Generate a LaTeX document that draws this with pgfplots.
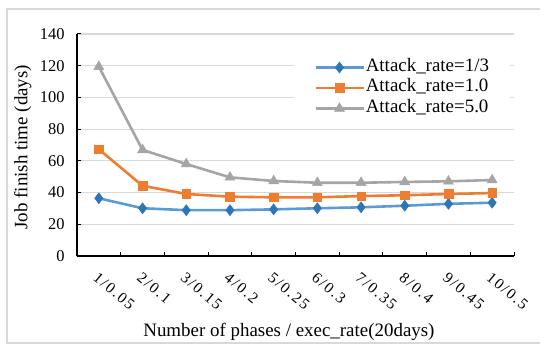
\documentclass[border=0pt]{standalone}
\usepackage{fontspec}
\setmainfont{Liberation Serif}
\newfontfamily\spacedfont[LetterSpace=12]{Liberation Serif}
\usepackage{pgfplots}
\pgfplotsset{compat=1.18}
\definecolor{cblue}{HTML}{5B9BD5}
\definecolor{cbluemark}{HTML}{2E75B6}
\definecolor{corange}{HTML}{ED7D31}
\definecolor{cgray}{HTML}{A5A5A5}
\definecolor{gridc}{HTML}{D9D9D9}
\begin{document}
\begin{tikzpicture}
\useasboundingbox (0,0) rectangle (540bp,346bp);
\draw[gridc, line width=1.2bp] (541bp,337bp) -- (7bp,337bp) -- (7bp,3bp) -- (541bp,3bp);
\begin{axis}[
  at={(77bp,90bp)}, anchor=south west,
  scale only axis, width=437bp, height=222bp,
  xmin=0.5, xmax=10.5, ymin=0, ymax=140,
  ytick={0,20,...,140},
  xtick={1,...,10},
  xticklabels={1/0.05,2/0.1,3/0.15,4/0.2,5/0.25,6/0.3,7/0.35,8/0.4,9/0.45,10/0.5},
  minor xtick={0.5,1.5,...,10.5},
  major x tick style={draw=none},
  tick align=inside,
  major tick length=4bp, minor tick length=4bp,
  axis x line*=bottom, axis y line*=left,
  axis line style={black, line width=1.2bp},
  tick style={black, line width=1bp},
  ymajorgrids, grid style={gridc, line width=1.2bp},
  /pgf/number format/assume math mode=true,
  yticklabel style={font=\fontsize{16.5}{18}\selectfont, xshift=-9bp},
  xticklabel style={font=\fontsize{15.5}{18}\spacedfont, yshift=-14bp, rotate=-40, anchor=north west, inner sep=1bp},
  xlabel={Number of phases / exec\_rate(20days)},
  xlabel style={font=\fontsize{19}{22}\selectfont, at={(axis description cs:0.485,0)}, anchor=base, yshift=-80bp},
  ylabel={Job finish time (days)},
  ylabel style={font=\fontsize{19}{22}\selectfont, at={(axis description cs:-0.124,0.49)}, anchor=center},
  legend style={draw=none, fill=white, at={(axis description cs:0.4966,0.914)}, anchor=north west,
    font=\fontsize{19}{20}\selectfont, row sep=0bp, inner xsep=20bp, inner ysep=4bp,
    nodes={inner sep=1bp, text height=13bp, text depth=5.5bp},
    /tikz/every even column/.append style={column sep=2bp}},
  legend cell align=left,
  legend image code/.code={\draw[mark repeat=2,mark phase=2,#1] plot coordinates {(0bp,0bp) (24bp,0bp) (48bp,0bp)};},
]
\addplot[color=cblue, line width=2.6bp, mark=diamond*, mark size=5.5bp,
  mark options={fill=cbluemark, draw=cbluemark, solid, line width=0.5bp}]
  coordinates {(1,36.4) (2,30.1) (3,28.9) (4,28.9) (5,29.4) (6,30.1) (7,30.7) (8,31.7) (9,32.9) (10,33.6)};
\addlegendentry{Attack\_rate=1/3}
\addplot[color=corange, line width=2.6bp, mark=square*, mark size=4.3bp,
  mark options={fill=corange, draw=corange, solid, line width=0.5bp}]
  coordinates {(1,67.3) (2,44.3) (3,39.1) (4,37.4) (5,37.0) (6,37.0) (7,37.8) (8,38.3) (9,39.1) (10,39.7)};
\addlegendentry{Attack\_rate=1.0}
\addplot[color=cgray, line width=2.6bp, mark=triangle*, mark size=5.8bp,
  mark options={fill=cgray, draw=cgray, solid, line width=0.5bp}]
  coordinates {(1,119.4) (2,66.9) (3,58.0) (4,49.6) (5,47.3) (6,46.2) (7,46.2) (8,46.7) (9,47.1) (10,47.9)};
\addlegendentry{Attack\_rate=5.0}
\end{axis}
\end{tikzpicture}
\end{document}
